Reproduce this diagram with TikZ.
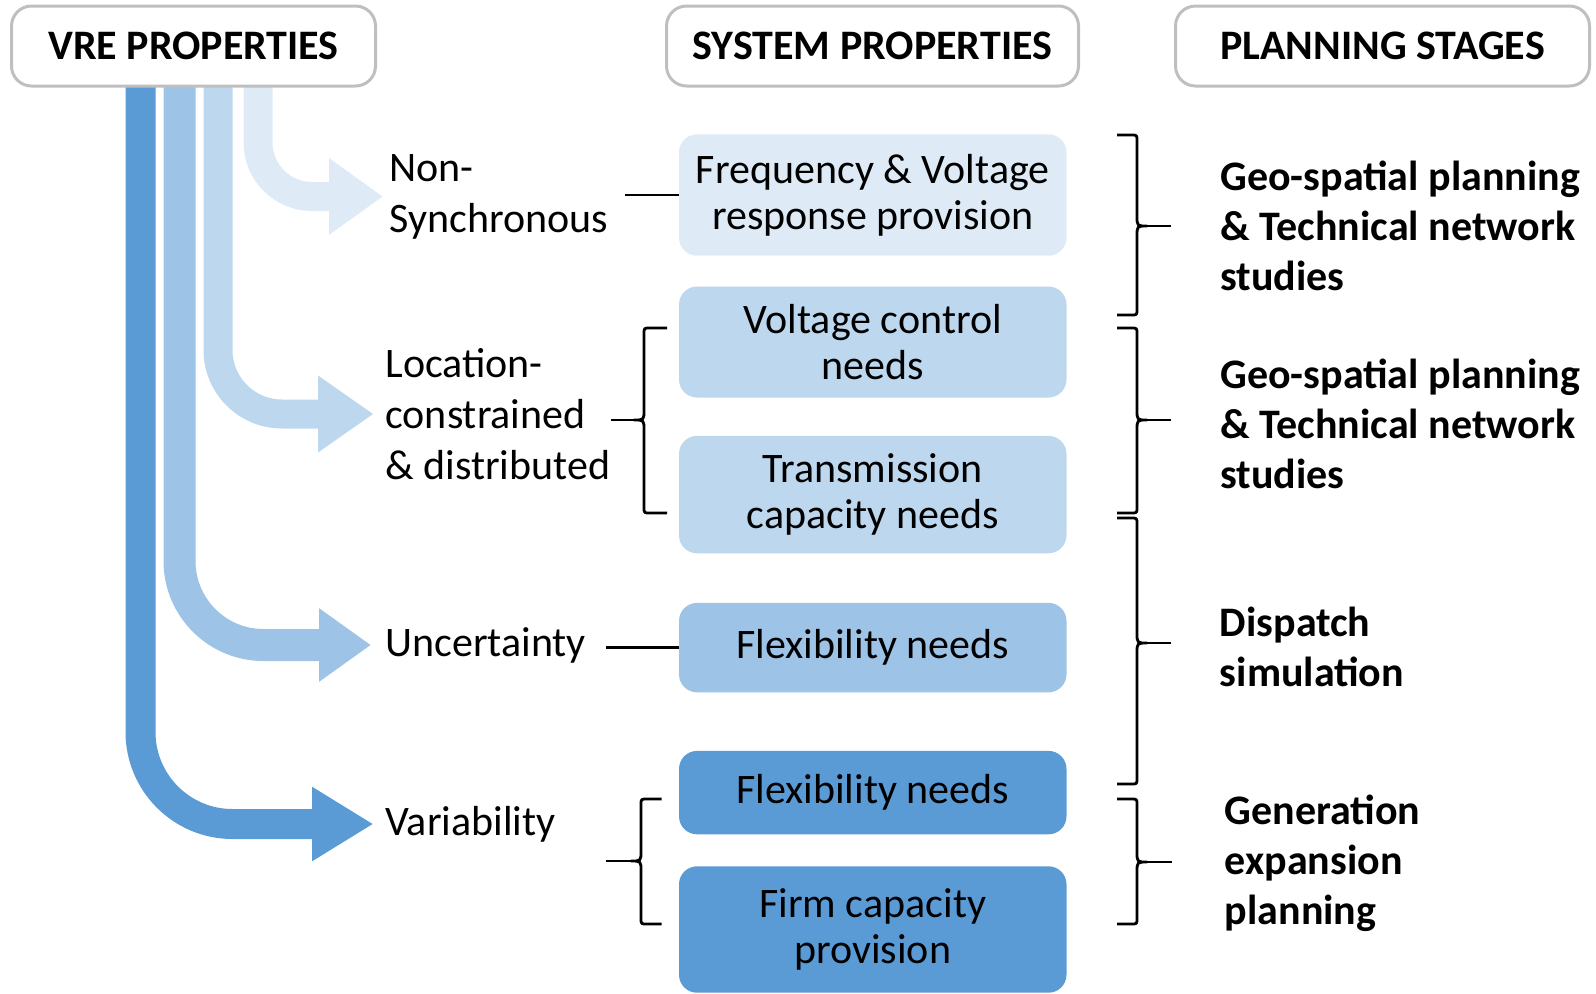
\documentclass[tikz,border=0pt]{standalone}
\usepackage{fontspec}
\setmainfont{Carlito}
\usepackage{xcolor}
\usepackage{tikz}
\usetikzlibrary{positioning,arrows.meta}

\definecolor{vdark}{HTML}{5B9BD5}
\definecolor{vmid}{HTML}{9DC3E6}
\definecolor{vlight}{HTML}{BDD7EE}
\definecolor{vpale}{HTML}{DEEBF7}
\definecolor{headgray}{HTML}{BFBFBF}

\begin{document}
\begin{tikzpicture}[x=0.5pt,y=-0.5pt,
	header/.style={draw=headgray,line width=1.5pt,rounded corners=10pt,fill=white,minimum height=40pt,font=\fontsize{21pt}{25pt}\selectfont\bfseries},
	sysbox/.style={rectangle,rounded corners=9pt,minimum width=193.75pt,align=center,font=\fontsize{21pt}{23pt}\selectfont},
	vrelabel/.style={anchor=west,inner sep=0pt,align=left,font=\fontsize{21pt}{25.5pt}\selectfont},
	stage/.style={anchor=west,inner sep=0pt,align=left,font=\fontsize{21pt}{25pt}\selectfont\bfseries},
	band/.style={line width=15pt,rounded corners=#1},
	link/.style={line width=1.4pt},
	bracket/.style={line width=1.4pt,line join=round}]
	\useasboundingbox (0,0) rectangle (1596,993);

	% VRE-Eigenschaften
	\node[vrelabel] (nonsync) at (389,196.5) {Non-\\Synchronous};
	\node[vrelabel] (loc) at (385,414) {Location-\\constrained\\\& distributed};
	\node[vrelabel] (uncert) at (385,645) {Uncertainty};
	\node[vrelabel] (var) at (385,824) {Variability};

	% breite Pfeile
	\draw[band=46pt,draw=vdark,-{Triangle[length=30.75pt,width=35pt]},shorten >=5.75pt] (140.5,80) |- (var.west);
	\draw[band=42pt,line width=16pt,draw=vmid,-{Triangle[length=26pt,width=35pt]},shorten >=7pt] (179.5,80) |- (uncert.west);
	\draw[band=32pt,line width=14.5pt,draw=vlight,-{Triangle[length=27.75pt,width=36.5pt]},shorten >=5.75pt] (218,80) |- (loc.west);
	\draw[band=27pt,line width=14.5pt,draw=vpale,-{Triangle[length=27pt,width=36.5pt]},shorten >=3pt] (258,80) |- (nonsync.west);

	% Kopfzeile
	\node[header,minimum width=182pt] (vre) at (193.5,46) {VRE PROPERTIES};
	\node[header,minimum width=206pt,right=144pt of vre] (sys) {SYSTEM PROPERTIES};
	\node[header,minimum width=207pt,right=47pt of sys] (plan) {PLANNING STAGES};

	% Systemeigenschaften
	\node[sysbox,fill=vpale,minimum height=60.7pt] (freq) at (872.75,195) {Frequency \& Voltage\\response provision};
	\node[sysbox,fill=vlight,minimum height=55.5pt,below=15pt of freq] (volt) {Voltage control\\needs};
	\node[sysbox,fill=vlight,minimum height=58.7pt,below=18.8pt of volt] (trans) {Transmission\\capacity needs};
	\node[sysbox,fill=vmid,minimum height=44.7pt,below=24.4pt of trans] (flexu) {Flexibility needs};
	\node[sysbox,fill=vdark,minimum height=41.7pt,below=28.9pt of flexu] (flexv) {Flexibility needs};
	\node[sysbox,fill=vdark,minimum height=63.2pt,below=15.6pt of flexv] (firm) {Firm capacity\\provision};

	% Verbindungen
	\draw[link,shorten <=8.5pt] (nonsync.east |- freq.west) -- (freq.west);
	\draw[link,shorten <=10pt] (uncert.east |- flexu.west) -- (flexu.west);

	% Klammern links
	\draw[bracket] (667,328) -- (650,328) .. controls (644,328) .. (644,334) -- (644,410) .. controls (644,420) .. (634,420) .. controls (644,420) .. (644,430) -- (644,507) .. controls (644,513) .. (650,513) -- (667,513);
	\coordinate (loctip) at (636,420);
	\draw[link] (loctip) -- (loctip -| loc.east);
	\draw[bracket] (661.6,799) -- (647,799) .. controls (641,799) .. (641,805) -- (641,851) .. controls (641,861) .. (631,861) .. controls (641,861) .. (641,871) -- (641,918) .. controls (641,924) .. (647,924) -- (661.6,924);
	\coordinate (vartip) at (633,861);
	\coordinate (varend) at (606,861);
	\draw[link] (vartip) -- (varend);

	% Planungsstufen
	\node[stage] (geo1) at (1220,226) {Geo-spatial planning\\\& Technical network\\studies};
	\node[stage] (geo2) at (1220,424) {Geo-spatial planning\\\& Technical network\\studies};
	\node[stage] (disp) at (1219.5,646.5) {Dispatch\\simulation};
	\node[stage] (gen) at (1224.5,863) {Generation\\expansion\\planning};

	% Klammern rechts
	\draw[bracket] (1117,135) -- (1131,135) .. controls (1137,135) .. (1137,141) -- (1137,216) .. controls (1137,226) .. (1147,226) .. controls (1137,226) .. (1137,236) -- (1137,309) .. controls (1137,315) .. (1131,315) -- (1117,315);
	\coordinate (tipa) at (1145,226);
	\coordinate (enda) at (1171,226);
	\draw[link] (tipa) -- (enda);
	\draw[bracket] (1117,328) -- (1131,328) .. controls (1137,328) .. (1137,334) -- (1137,410) .. controls (1137,420) .. (1147,420) .. controls (1137,420) .. (1137,430) -- (1137,507) .. controls (1137,513) .. (1131,513) -- (1117,513);
	\coordinate (tipb) at (1145,420);
	\coordinate (endb) at (1171,420);
	\draw[link] (tipb) -- (endb);
	\draw[bracket] (1117,518) -- (1131,518) .. controls (1137,518) .. (1137,524) -- (1137,633) .. controls (1137,643) .. (1147,643) .. controls (1137,643) .. (1137,653) -- (1137,778) .. controls (1137,784) .. (1131,784) -- (1117,784);
	\coordinate (tipc) at (1145,643);
	\coordinate (endc) at (1171,643);
	\draw[link] (tipc) -- (endc);
	\draw[bracket] (1117,799) -- (1131,799) .. controls (1137,799) .. (1137,805) -- (1137,852) .. controls (1137,862) .. (1147,862) .. controls (1137,862) .. (1137,872) -- (1137,918) .. controls (1137,924) .. (1131,924) -- (1117,924);
	\coordinate (tipd) at (1145,862);
	\coordinate (endd) at (1172,862);
	\draw[link] (tipd) -- (endd);
\end{tikzpicture}
\end{document}
